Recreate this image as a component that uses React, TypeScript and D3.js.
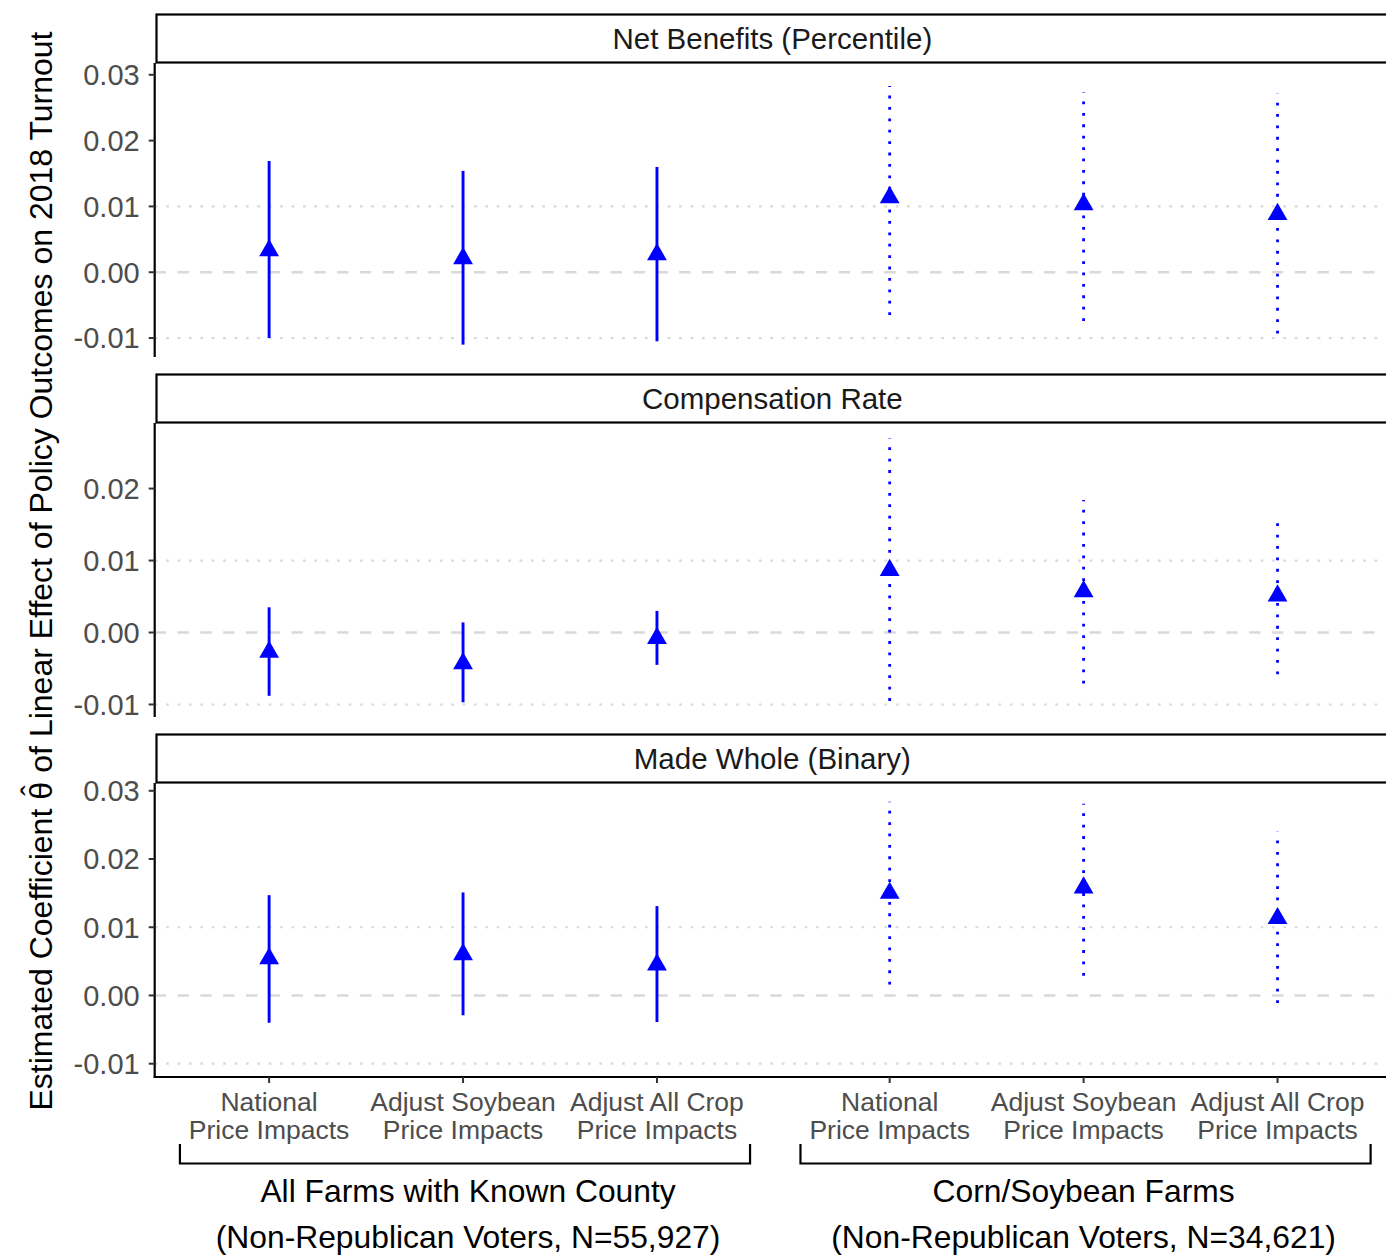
import React from "react";
import * as d3 from "d3";

// ---------- data ----------
const categories = [
  ["National", "Price Impacts"],
  ["Adjust Soybean", "Price Impacts"],
  ["Adjust All Crop", "Price Impacts"],
  ["National", "Price Impacts"],
  ["Adjust Soybean", "Price Impacts"],
  ["Adjust All Crop", "Price Impacts"],
];
const xPositions = [1, 2, 3, 4.2, 5.2, 6.2];
const lineTypes = ["solid", "solid", "solid", "dotted", "dotted", "dotted"];

const groupTitles = ["All Farms with Known County", "Corn/Soybean Farms"];
const groupSubtitles = [
  "(Non-Republican Voters, N=55,927)",
  "(Non-Republican Voters, N=34,621)",
];
const groupMembers = [
  [0, 1, 2],
  [3, 4, 5],
];

const panelTitles = ["Net Benefits (Percentile)", "Compensation Rate", "Made Whole (Binary)"];

const netEstimate = [0.0033, 0.0021, 0.0027, 0.01135, 0.0103, 0.0088];
const netLower = [-0.01, -0.011, -0.0105, -0.0065, -0.0074, -0.0093];
const netUpper = [0.0169, 0.0154, 0.016, 0.0283, 0.0273, 0.0271];

const compEstimate = [-0.0027, -0.0043, -0.0008, 0.00865, 0.0057, 0.0051];
const compLower = [-0.0088, -0.0097, -0.0045, -0.0095, -0.0071, -0.0058];
const compUpper = [0.0035, 0.0014, 0.003, 0.027, 0.0184, 0.0163];

const wholeEstimate = [0.0054, 0.006, 0.0045, 0.015, 0.0158, 0.0113];
const wholeLower = [-0.004, -0.0029, -0.0039, 0.0016, 0.0029, -0.0011];
const wholeUpper = [0.0147, 0.0151, 0.0131, 0.0284, 0.0281, 0.024];

const netTicks = [-0.01, 0, 0.01, 0.02, 0.03];
const compTicks = [-0.01, 0, 0.01, 0.02];
const wholeTicks = [-0.01, 0, 0.01, 0.02, 0.03];

const netDomain = [-0.01288, 0.03179];
const compDomain = [-0.01174, 0.02911];
const wholeDomain = [-0.01195, 0.03114];

const panels = [
  { title: panelTitles[0], est: netEstimate, lo: netLower, hi: netUpper, ticks: netTicks, domain: netDomain },
  { title: panelTitles[1], est: compEstimate, lo: compLower, hi: compUpper, ticks: compTicks, domain: compDomain },
  { title: panelTitles[2], est: wholeEstimate, lo: wholeLower, hi: wholeUpper, ticks: wholeTicks, domain: wholeDomain },
];

// ---------- layout ----------
const W = 1386;
const H = 1256;
const FONT = "'Liberation Sans', Arial, Helvetica, sans-serif";
const panelLeft = 154.7;
const panelRight = 1390;
const stripTops = [14, 374, 734];
const stripH = 49;
const plotH = 294;
const BLUE = "#0000FF";
const GRID = "#d9d9d9";
const TICKGREY = "#4D4D4D";

const x = d3.scaleLinear().domain([0.41, 6.78]).range([panelLeft, panelRight]);
const tri = d3.symbol().type(d3.symbolTriangle).size(170)();
const fmt = (v: number) => d3.format(".2f")(v).replace("\u2212", "-");

function Panel({ p, idx }: { p: any; idx: number }) {
  const top = stripTops[idx] + stripH;
  const bottom = top + plotH;
  const y = d3.scaleLinear().domain(p.domain).range([bottom, top]);
  const isBottom = idx === panels.length - 1;
  return (
    <g>
      {/* grid lines */}
      {p.ticks
        .filter((t: number) => Math.abs(t) > 1e-9 && Math.abs(Math.abs(t) - 0.01) < 1e-9)
        .map((t: number) => (
          <line
            key={"g" + t}
            x1={panelLeft}
            x2={panelRight}
            y1={y(t)}
            y2={y(t)}
            stroke={GRID}
            strokeWidth={2.2}
            strokeDasharray="2.8 8.6"
          />
        ))}
      <line
        x1={panelLeft}
        x2={panelRight}
        y1={y(0)}
        y2={y(0)}
        stroke={GRID}
        strokeWidth={2.6}
        strokeDasharray="11.4 11.4"
      />
      {/* error bars */}
      {p.est.map((e: number, i: number) => (
        <line
          key={"e" + i}
          x1={x(xPositions[i])}
          x2={x(xPositions[i])}
          y1={y(p.lo[i])}
          y2={y(p.hi[i])}
          stroke={BLUE}
          strokeWidth={lineTypes[i] === "solid" ? 2.9 : 2.8}
          strokeDasharray={lineTypes[i] === "solid" ? undefined : "2.8 8.6"}
        />
      ))}
      {/* points */}
      {p.est.map((e: number, i: number) => (
        <path key={"p" + i} d={tri as string} transform={`translate(${x(xPositions[i])},${y(e)})`} fill={BLUE} />
      ))}
      {/* left axis */}
      <line x1={panelLeft} x2={panelLeft} y1={top} y2={bottom + (isBottom ? 1 : 0)} stroke="#000" strokeWidth={2.2} />
      {p.ticks.map((t: number) => (
        <g key={"t" + t}>
          <line x1={panelLeft - 6} x2={panelLeft} y1={y(t)} y2={y(t)} stroke="#333" strokeWidth={2} />
          <text
            x={panelLeft - 15}
            y={y(t) + 10.4}
            textAnchor="end"
            fontSize={29}
            fill={TICKGREY}
            fontFamily={FONT}
          >
            {fmt(t)}
          </text>
        </g>
      ))}
      {/* strip */}
      <rect x={156.5} y={stripTops[idx] + 0.5} width={1300} height={stripH - 1} fill="#fff" stroke="#000" strokeWidth={2.2} />
      <text
        x={(panelLeft + panelRight) / 2}
        y={stripTops[idx] + stripH / 2 + 10.5}
        textAnchor="middle"
        fontSize={29.5}
        fill="#1A1A1A"
        fontFamily={FONT}
      >
        {p.title}
      </text>
      {isBottom && (
        <g>
          <line x1={panelLeft - 1} x2={panelRight} y1={bottom} y2={bottom} stroke="#000" strokeWidth={2.2} />
          {xPositions.map((xp, i) => (
            <g key={"xt" + i}>
              <line x1={x(xp)} x2={x(xp)} y1={bottom} y2={bottom + 6} stroke="#333" strokeWidth={2} />
              {categories[i].map((line, j) => (
                <text
                  key={j}
                  x={x(xp)}
                  y={1110.5 + j * 28.5}
                  textAnchor="middle"
                  fontSize={26.5}
                  fill={TICKGREY}
                  fontFamily={FONT}
                >
                  {line}
                </text>
              ))}
            </g>
          ))}
        </g>
      )}
    </g>
  );
}

export default function App() {
  const titleX = 52;
  const titleY = 571;
  const fs = 32;
  return (
    <div style={{ position: "absolute", left: 0, top: 0 }}>
      <svg width={W} height={H} style={{ display: "block", background: "#fff" }}>
        <rect width={W} height={H} fill="#fff" />
        {panels.map((p, i) => (
          <Panel key={i} p={p} idx={i} />
        ))}
        {/* group brackets */}
        {groupMembers.map((m, gi) => {
          const x1 = x(xPositions[m[0]] - 0.46);
          const x2 = x(xPositions[m[m.length - 1]] + 0.48);
          const cx = x(xPositions[m[1]]) + (gi === 0 ? 5 : 0);
          return (
            <g key={"gr" + gi}>
              <path
                d={`M${x1},1144 V1163.5 H${x2} V1144`}
                fill="none"
                stroke="#000"
                strokeWidth={2.2}
              />
              <text x={cx} y={1201.7} textAnchor="middle" fontSize={31.8} fill="#000" fontFamily={FONT}>
                {groupTitles[gi]}
              </text>
              <text x={cx} y={1247.5} textAnchor="middle" fontSize={31.8} fill="#000" fontFamily={FONT}>
                {groupSubtitles[gi]}
              </text>
            </g>
          );
        })}
        {/* y axis title */}
        <text
          transform={`translate(${titleX},${titleY}) rotate(-90)`}
          textAnchor="middle"
          fontSize={fs}
          fill="#000"
          fontFamily={FONT}
        >
          <tspan>Estimated Coefficient θ</tspan>
          <tspan dx={-0.43 * fs} dy={-0.26 * fs}>ˆ</tspan>
          <tspan dx={0.11 * fs} dy={0.26 * fs}> of Linear Effect of Policy Outcomes on 2018 Turnout</tspan>
        </text>
      </svg>
    </div>
  );
}
